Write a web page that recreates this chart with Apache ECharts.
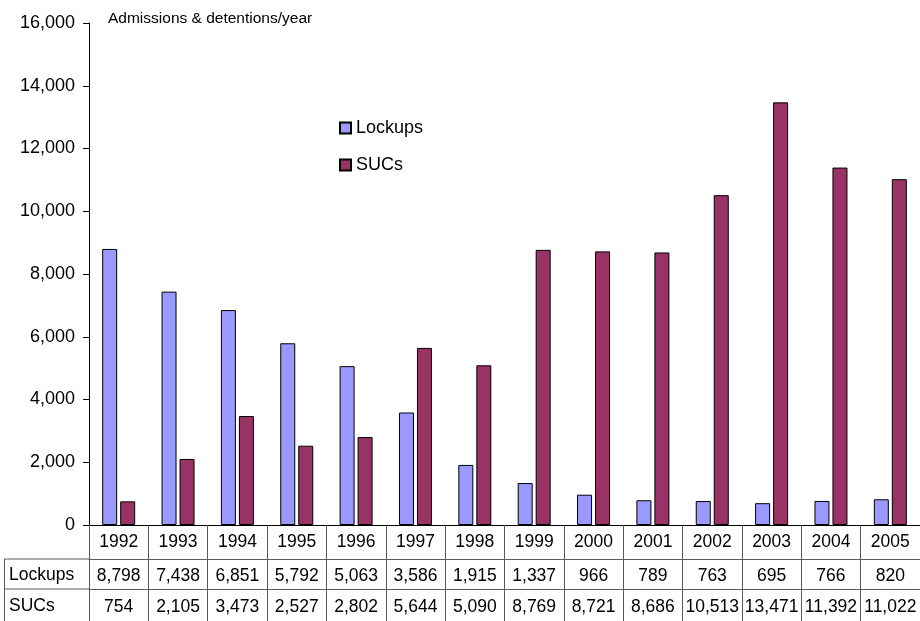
<!DOCTYPE html>
<html><head><meta charset="utf-8">
<script src="https://cdn.jsdelivr.net/npm/echarts@6/dist/echarts.min.js"></script>
<style>html,body{margin:0;padding:0;background:#fff}#c{width:920px;height:621px}</style>
</head><body><div id="c"></div>
<script>
const years = ['1992','1993','1994','1995','1996','1997','1998','1999','2000','2001','2002','2003','2004','2005'];
const lockups = [8798,7438,6851,5792,5063,3586,1915,1337,966,789,763,695,766,820];
const sucs = [754,2105,3473,2527,2802,5644,5090,8769,8721,8686,10513,13471,11392,11022];
const seriesNames = ['Lockups','SUCs'];
const yTicks = [0,2000,4000,6000,8000,10000,12000,14000,16000];
const titleText = 'Admissions & detentions/year';

const FONT = '"Liberation Sans", Arial, sans-serif';
const fmt = v => v.toLocaleString('en-US');
const G = {left: 89, right: 0, top: 23, bottom: 96};
const gridLine = '#5a5a5a';

const chart = echarts.init(document.getElementById('c'), null, {renderer: 'canvas'});
const tableAxis = (vals, offset, margin) => ({
  type: 'category', data: years, position: 'bottom', offset: offset,
  axisLine: {show: true, lineStyle: {color: gridLine, width: 1}},
  axisTick: {show: false},
  axisLabel: {margin: margin, fontFamily: FONT, fontSize: 17.5, color: '#000', interval: 0,
    formatter: (v, i) => fmt(vals[i])}
});
chart.setOption({
  animation: false,
  backgroundColor: '#fff',
  title: {text: titleText, left: 103, top: 6,
    textStyle: {fontFamily: FONT, fontSize: 15.5, fontWeight: 'normal', color: '#000'}},
  legend: {orient: 'vertical', left: 334, top: 114, itemWidth: 11, itemHeight: 11, itemGap: 19,
    icon: 'rect', data: seriesNames,
    textStyle: {fontFamily: FONT, fontSize: 18, color: '#000'}},
  grid: G,
  xAxis: [
    {type: 'category', data: years, position: 'bottom',
      axisLine: {lineStyle: {color: '#000', width: 1}},
      axisTick: {show: true, length: 96, lineStyle: {color: gridLine, width: 1}},
      axisLabel: {margin: 8, fontFamily: FONT, fontSize: 17.5, color: '#000', interval: 0}},
    tableAxis(lockups, 34, 8),
    tableAxis(sucs, 64, 9)
  ],
  yAxis: {type: 'value', min: yTicks[0], max: yTicks[yTicks.length-1], interval: 2000,
    axisLine: {show: true, lineStyle: {color: '#000', width: 1}},
    axisTick: {show: true, length: 6, lineStyle: {color: '#000'}},
    splitLine: {show: false},
    axisLabel: {margin: 14, fontFamily: FONT, fontSize: 18, color: '#000', formatter: v => fmt(v)}},
  series: [
    {name: seriesNames[0], type: 'bar', data: lockups, xAxisIndex: 0,
      barWidth: 15, barGap: '20%',
      itemStyle: {color: '#9999ff', borderColor: '#000', borderWidth: 1}},
    {name: seriesNames[1], type: 'bar', data: sucs, xAxisIndex: 0,
      barWidth: 15, barGap: '20%',
      itemStyle: {color: '#993366', borderColor: '#000', borderWidth: 1}}
  ]
});

// left header column of the data table
const axisY = 621 - G.bottom;
const rowTop = axisY + 34, rowMid = axisY + 64, rowBot = 621;
const L = 4.5, R = G.left;
chart.setOption({graphic: [
  {type: 'line', shape: {x1: L, y1: rowTop, x2: R, y2: rowTop}, style: {stroke: gridLine, lineWidth: 1}},
  {type: 'line', shape: {x1: L, y1: rowMid, x2: R, y2: rowMid}, style: {stroke: gridLine, lineWidth: 1}},
  {type: 'line', shape: {x1: L, y1: rowTop, x2: L, y2: rowBot}, style: {stroke: gridLine, lineWidth: 1}},
  {type: 'text', left: 9, top: rowTop + 7, style: {text: seriesNames[0], font: '17.5px ' + FONT, fill: '#000'}},
  {type: 'text', left: 9, top: rowMid + 8, style: {text: seriesNames[1], font: '17.5px ' + FONT, fill: '#000'}}
]});
</script>
</body></html>
